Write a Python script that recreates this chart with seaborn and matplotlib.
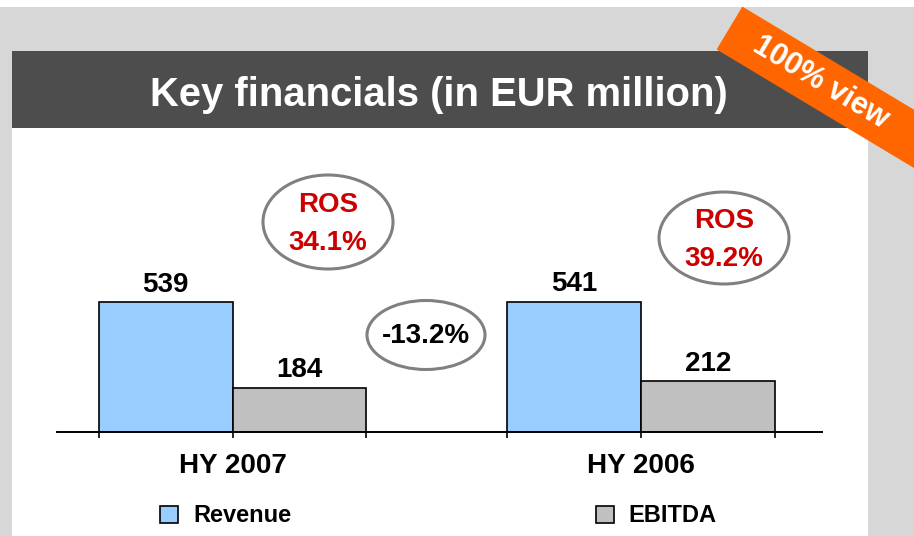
import matplotlib
matplotlib.use("Agg")
import matplotlib.pyplot as plt
import matplotlib.patches as mpatches
import seaborn as sns
import pandas as pd
import numpy as np

# ---- data ----
periods = ["HY 2007", "HY 2006"]
metrics = ["Revenue", "EBITDA"]
revenue = [539, 541]
ebitda = [184, 212]
ros_labels = ["ROS\n34.1%", "ROS\n39.2%"]
change_label = "-13.2%"
title = "Key financials (in EUR million)"
badge = "100% view"
colors = {"Revenue": "#99ccff", "EBITDA": "#c0c0c0"}

df = pd.DataFrame({
    "period": periods * 2,
    "metric": ["Revenue"] * 2 + ["EBITDA"] * 2,
    "value": revenue + ebitda,
})

sns.set_style("white")
plt.rcParams["font.family"] = ["Liberation Sans", "DejaVu Sans"]
plt.rcParams["text.color"] = "black"
plt.rcParams["xtick.color"] = "black"
plt.rcParams["xtick.labelcolor"] = "black"

W, H = 914, 536
fig = plt.figure(figsize=(W / 100, H / 100), dpi=100)
fig.patch.set_facecolor("white")

# background decorations in pixel coordinates
bg = fig.add_axes([0, 0, 1, 1], zorder=0)
bg.set_xlim(0, W)
bg.set_ylim(H, 0)
bg.axis("off")
bg.add_patch(mpatches.Rectangle((0, 7), W, H - 7, facecolor="#d7d7d7", edgecolor="none"))
bg.add_patch(mpatches.Rectangle((12, 128), 856, H - 128, facecolor="white", edgecolor="none"))
bg.add_patch(mpatches.Rectangle((12, 51), 856, 77, facecolor="#4d4d4d", edgecolor="none"))
bg.text(439, 106, title, color="white", fontsize=28.8, fontweight="bold",
        ha="center", va="baseline")

# orange badge
ang = np.deg2rad(31)
d = np.array([np.cos(ang), np.sin(ang)])
p = np.array([-np.sin(ang), np.cos(ang)])
c0 = np.array([729.5, 28.0])
half = 25
L = 320
poly = [c0 - p * half, c0 + p * half, c0 + d * L + p * half, c0 + d * L - p * half]
bg.add_patch(mpatches.Polygon(poly, closed=True, facecolor="#ff6600", edgecolor="none"))
tc = c0 + d * 106
bg.text(tc[0], tc[1], badge, color="white", fontsize=22, fontweight="bold",
        ha="center", va="center", rotation=-31, rotation_mode="anchor")

# ellipses
ell_style = dict(facecolor="none", edgecolor="#808080", linewidth=2.2)
bg.add_patch(mpatches.Ellipse((328, 222), 130, 94, **ell_style))
bg.add_patch(mpatches.Ellipse((724, 238), 130, 92, **ell_style))
bg.add_patch(mpatches.Ellipse((426, 335), 118, 69, **ell_style))
for (x, y), lab in zip([(328, 224), (724, 240)], ros_labels):
    bg.text(x, y, lab, color="#cc0000", fontsize=20, fontweight="bold",
            ha="center", va="center", linespacing=1.55)
bg.text(426, 336, change_label, color="black", fontsize=20, fontweight="bold",
        ha="center", va="center")

# main bar axes
ax = fig.add_axes([57 / W, 1 - 432 / H, (822 - 57) / W, (432 - 150) / H], zorder=1)
ax.patch.set_alpha(0)
sns.barplot(data=df, x="period", y="value", hue="metric", order=periods,
            hue_order=metrics, palette=colors, saturation=1, width=0.655,
            edgecolor="black", linewidth=1.2, legend=False, ax=ax)
ax.set_xlim(-0.43, 1.443)
ax.set_ylim(0, 1170)
for cont in ax.containers:
    ax.bar_label(cont, padding=3, fontsize=20, fontweight="bold", color="black")

for s in ["top", "right", "left"]:
    ax.spines[s].set_visible(False)
ax.spines["bottom"].set_color("black")
ax.spines["bottom"].set_linewidth(1.4)
ax.set_yticks([])
ax.set_ylabel("")
ax.set_xlabel("")
ax.set_xticks([0, 1])
ax.set_xticklabels(periods, fontsize=20, fontweight="bold", color="black")
ax.set_xticks([-0.3275, 0.3275, 0.6725, 1.3275], minor=True)
ax.tick_params(axis="x", which="both", direction="out", length=4, width=1.2,
               color="black", bottom=True)
ax.tick_params(axis="x", which="major", pad=11)

handles = [mpatches.Patch(facecolor=colors[m], edgecolor="black", linewidth=1.2) for m in metrics]
fig.legend(handles, metrics, loc="center left", bbox_to_anchor=(160 / W, 1 - 516 / H),
           ncol=2, frameon=False, prop={"weight": "bold", "size": 17},
           handlelength=0.76, handleheight=0.76, handletextpad=0.64,
           columnspacing=12.9, borderpad=0, borderaxespad=0)

fig.savefig("out.png", dpi=100)
